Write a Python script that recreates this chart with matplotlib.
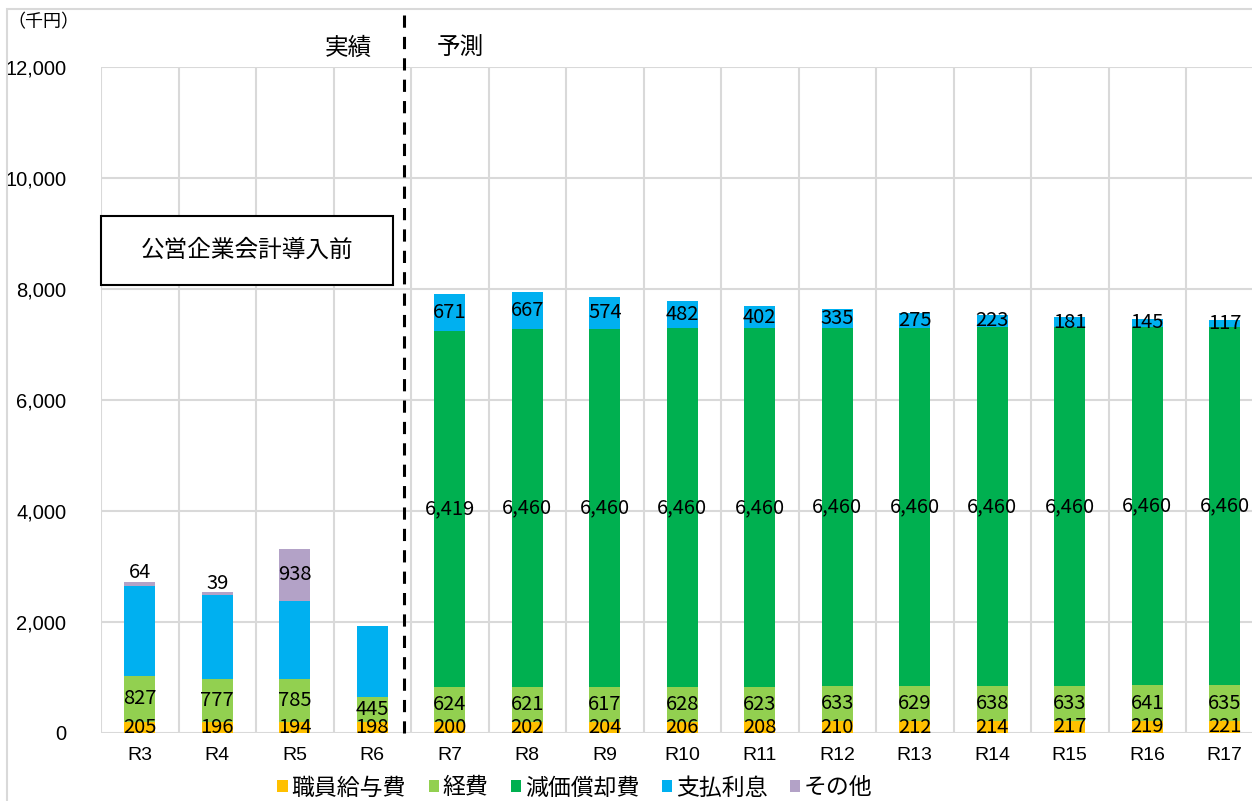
import matplotlib
matplotlib.use("Agg")
import matplotlib.pyplot as plt
from matplotlib.patches import Rectangle
import matplotlib.transforms as mtransforms
import numpy as np

plt.rcParams['font.family'] = ['Noto Sans CJK JP', 'DejaVu Sans']

categories = ['R3', 'R4', 'R5', 'R6', 'R7', 'R8', 'R9', 'R10', 'R11', 'R12', 'R13', 'R14', 'R15', 'R16', 'R17']
salary = [205, 196, 194, 198, 200, 202, 204, 206, 208, 210, 212, 214, 217, 219, 221]
expenses = [827, 777, 785, 445, 624, 621, 617, 628, 623, 633, 629, 638, 633, 641, 635]
depreciation = [0, 0, 0, 0, 6419, 6460, 6460, 6460, 6460, 6460, 6460, 6460, 6460, 6460, 6460]
interest = [1620, 1520, 1400, 1280, 671, 667, 574, 482, 402, 335, 275, 223, 181, 145, 117]
other = [64, 39, 938, 0, 0, 0, 0, 0, 0, 0, 0, 0, 0, 0, 0]
interest_labeled = [False, False, False, False] + [True] * 11

series_names = ['職員給与費', '経費', '減価償却費', '支払利息', 'その他']
colors = ['#FFC000', '#92D050', '#00B050', '#00B0F0', '#B3A2C7']
yticks = [0, 2000, 4000, 6000, 8000, 10000, 12000]

W, H = 1252, 801
fig = plt.figure(figsize=(W / 100, H / 100), dpi=100)
left, right, top, bottom = 101, 1263.5, 67, 733
ax = fig.add_axes([left / W, 1 - bottom / H, (right - left) / W, (bottom - top) / H])

x = np.arange(len(categories))
width = 0.4
data = [salary, expenses, depreciation, interest, other]
base = np.zeros(len(categories))
bars = []
for vals, c, name in zip(data, colors, series_names):
    v = np.array(vals, dtype=float)
    ax.bar(x, v, width, bottom=base, color=c, label=name, zorder=3)
    bars.append((v, base.copy()))
    base = base + v

lab_fs = 14.5
for i in range(len(categories)):
    for k, (v, b0) in enumerate(bars):
        val = v[i]
        if val <= 0:
            continue
        if k == 3 and not interest_labeled[i]:
            continue
        if k == 4 and val < 200:
            ax.text(x[i], b0[i] + val + 170, f"{int(val):,}", ha='center', va='center',
                    fontsize=lab_fs, zorder=5)
            continue
        ax.text(x[i], b0[i] + val / 2, f"{int(val):,}", ha='center', va='center',
                fontsize=lab_fs, zorder=5)

ax.set_xlim(-0.5, len(categories) - 0.5)
ax.set_ylim(0, 12000)
ax.set_yticks(yticks)
ax.set_yticklabels([f"{t:,}" for t in yticks], fontsize=14.5, family='Liberation Sans')
ax.set_xticks(x)
ax.set_xticklabels(categories, fontsize=14, family='Liberation Sans')
ax.tick_params(length=0)
ax.tick_params(axis='y', pad=25)
ax.tick_params(axis='x', pad=10)

for s in ax.spines.values():
    s.set_visible(False)
ax.set_axisbelow(True)
for t in yticks:
    ax.axhline(t, color='#D9D9D9', lw=1.5, zorder=1)
for b in np.arange(-0.5, len(categories), 1.0):
    ax.axvline(b, color='#D9D9D9', lw=1.5, zorder=1)

# dashed divider
trans = mtransforms.blended_transform_factory(ax.transData, fig.transFigure)
ax.plot([3.41, 3.41], [1 - 15 / H, 1 - 733 / H], transform=trans, color='black',
        lw=2.2, ls=(0, (4, 3)), clip_on=False, zorder=6)

# box annotation
bx0 = -0.5
bx1 = -0.5 + (392.5 - 101) / 77.5
by0 = (733 - 285) / 666 * 12000
by1 = (733 - 216) / 666 * 12000
ax.add_patch(Rectangle((bx0, by0), bx1 - bx0, by1 - by0, facecolor='white',
                       edgecolor='black', lw=1.5, zorder=4, clip_on=False))
ax.text((bx0 + bx1) / 2, (by0 + by1) / 2, '公営企業会計導入前', ha='center', va='center',
        fontsize=17, zorder=5)

fig.text(43 / W, 1 - 22 / H, '（千円）', ha='center', va='center', fontsize=13)
fig.text(348 / W, 1 - 48 / H, '実績', ha='center', va='center', fontsize=17)
fig.text(460 / W, 1 - 48 / H, '予測', ha='center', va='center', fontsize=17)

# outer border
fig.patches.append(Rectangle((7 / W, -0.01), 1.02, 1 - 9 / H + 0.01, transform=fig.transFigure,
                             facecolor='none', edgecolor='#D9D9D9', lw=1.5))

handles, labels = ax.get_legend_handles_labels()
fig.legend(handles, labels, loc='center', bbox_to_anchor=(575 / W, 1 - 788 / H), ncol=5,
           frameon=False, fontsize=16.5, handlelength=0.45, handleheight=0.45,
           handletextpad=0.15, columnspacing=1.0, borderaxespad=0)

fig.savefig('out.png', dpi=100)
